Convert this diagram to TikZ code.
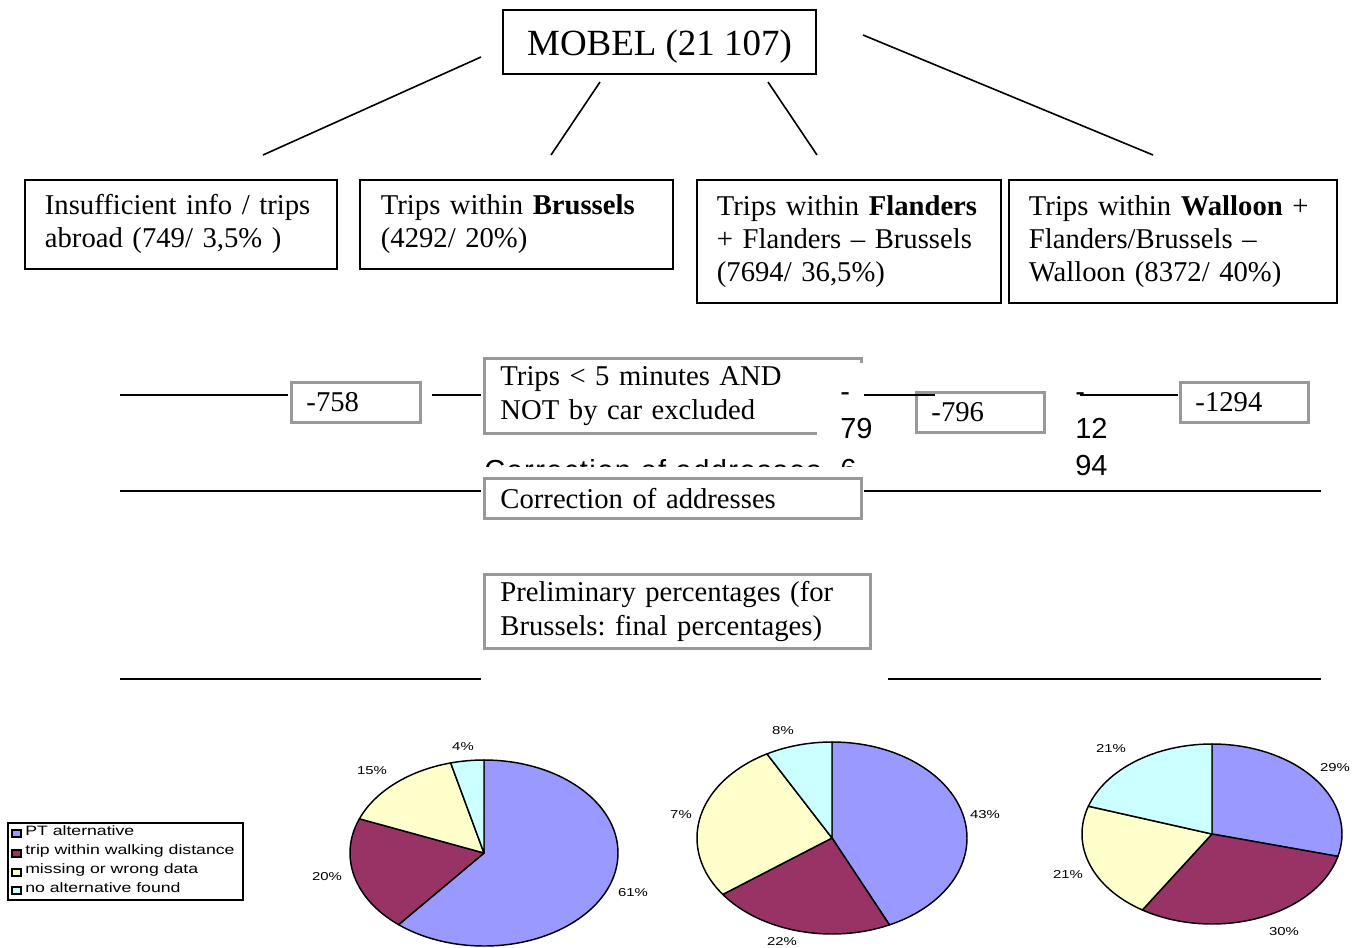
\documentclass[tikz,border=0pt]{standalone}
\usepackage{fontspec}
\usepackage{graphicx}
\setmainfont{Liberation Serif}
\setsansfont{Liberation Sans}
\definecolor{ptc}{HTML}{9999FF}
\definecolor{walkc}{HTML}{993366}
\definecolor{missc}{HTML}{FFFFCC}
\definecolor{noaltc}{HTML}{CCFFFF}
\definecolor{boxgray}{HTML}{999999}
\newcommand\Ln[1]{\mbox{#1}}
\newcommand\Pl[1]{\scalebox{1.3}[1]{#1}}
\frenchspacing
\tikzset{
  topbox/.style={draw=black, line width=1.4pt, rectangle, inner sep=0pt, anchor=north west, align=left, font=\fontsize{21.5pt}{24.75pt}\selectfont},
  graybox/.style={draw=boxgray, line width=2.2pt, rectangle, inner sep=0pt, anchor=north west, align=left, font=\fontsize{21.5pt}{25.5pt}\selectfont},
  link/.style={line width=1.2pt},
  rulel/.style={line width=1.5pt},
  pie/.style={draw=black, line width=1.1pt, line join=round},
  plabel/.style={font=\sffamily\fontsize{8.6pt}{10pt}\selectfont, inner sep=0pt},
  legtext/.style={font=\sffamily\fontsize{10.2pt}{12pt}\selectfont, inner sep=0pt, anchor=west},
  sansnum/.style={font=\sffamily\fontsize{21.75pt}{27.75pt}\selectfont, inner sep=0pt, anchor=base west},
  legsq/.style={draw=black, line width=0.8pt},
}
\begin{document}
\begin{tikzpicture}[x=0.75pt, y=-0.75pt]
\fill[white] (0,0) rectangle (1364,947);
\useasboundingbox (0,0) rectangle (1364,947);

% ---------- top tree ----------
\node[draw=black, line width=1.4pt, rectangle, inner sep=0pt, minimum width=234.75pt, minimum height=48pt,
      text height=20.6pt, text depth=0pt,
      font=\fontsize{27.7pt}{32pt}\selectfont] (mobel) at (659.5,42) {MOBEL (21 107)};

\node[topbox, minimum width=234pt, minimum height=66.75pt, text width=204pt] (b1) at (24,179)
  {\Ln{Insufficient info / trips}\\\Ln{abroad (749/ 3,5\% )}};
\node[topbox, minimum width=234.75pt, minimum height=66.75pt, text width=203.25pt] (b2) at (359,179)
  {\Ln{Trips within \textbf{Brussels}}\\\Ln{(4292/ 20\%)}};
\node[topbox, minimum width=228pt, minimum height=92.25pt, text width=198pt] (b3) at (696,179)
  {\Ln{Trips within \textbf{Flanders}}\\\Ln{+ Flanders – Brussels}\\\Ln{(7694/ 36,5\%)}};
\node[topbox, minimum width=246pt, minimum height=92.25pt, text width=216pt] (b4) at (1008,179)
  {\Ln{Trips within \textbf{Walloon} +}\\\Ln{Flanders/Brussels –}\\\Ln{Walloon (8372/ 40\%)}};

\coordinate (l1a) at (481,57);  \coordinate (l1b) at (263,155);
\coordinate (l2a) at (600,82);  \coordinate (l2b) at (551,155);
\coordinate (l3a) at (768,82);  \coordinate (l3b) at (817,155);
\coordinate (l4a) at (863,35);  \coordinate (l4b) at (1153,155);
\draw[link] (l1a) -- (l1b);
\draw[link] (l2a) -- (l2b);
\draw[link] (l3a) -- (l3b);
\draw[link] (l4a) -- (l4b);

% ---------- first filter row ----------
\node[graybox, minimum width=96.75pt, minimum height=30pt, text width=74.25pt] (m758) at (290,381) {-758};
\node[graybox, minimum width=282.75pt, minimum height=56.25pt, text width=258.75pt] (trips) at (483,357)
  {\Ln{Trips < 5 minutes AND}\\\Ln{NOT by car excluded}};
\fill[white] (817,363) rectangle (866,470);
\node[graybox, minimum width=96pt, minimum height=30pt, text width=73.5pt] (m796) at (915,391) {-796};
\node[graybox, minimum width=96pt, minimum height=30pt, text width=73.5pt] (m1294) at (1179,381) {-1294};

\coordinate (r1a) at (120,395); \coordinate (r1b) at (288,395);
\coordinate (r1c) at (432,395); \coordinate (r1d) at (481,395);
\coordinate (r1e) at (864,395); \coordinate (r1f) at (935,395);
\coordinate (r1g) at (1080,395); \coordinate (r1h) at (1178,395);
\draw[rulel] (r1a) -- (r1b);
\draw[rulel] (r1c) -- (r1d);
\draw[rulel] (r1e) -- (r1f);
\draw[rulel] (r1g) -- (r1h);

\node[sansnum] (d1) at (840,401) {-};
\node[sansnum] (n79) at (840,438) {79};
\node[sansnum] (d2) at (1075,401) {-};
\node[sansnum] (n12) at (1075,438) {12};
\node[sansnum] (n94) at (1075,475) {94};
\begin{scope}
  \clip (480,440) rectangle (870,466);
  \node[sansnum] (ghost) at (484,480) {\addfontfeature{LetterSpace=5}Correction of addresses};
  \node[sansnum] (n6) at (840,479) {6};
\end{scope}

% ---------- second row ----------
\node[graybox, minimum width=282.75pt, minimum height=30pt, text width=258.75pt] (corr) at (483,477)
  {Correction of addresses};
\coordinate (r2a) at (120,491); \coordinate (r2b) at (481,491);
\coordinate (r2c) at (864,491); \coordinate (r2d) at (1321,491);
\draw[rulel] (r2a) -- (r2b);
\draw[rulel] (r2c) -- (r2d);

% ---------- third row ----------
\node[graybox, minimum width=289.5pt, minimum height=55.5pt, text width=265.5pt] (prelim) at (483,573)
  {\Ln{Preliminary percentages (for}\\\Ln{Brussels: final percentages)}};
\coordinate (r3a) at (120,679); \coordinate (r3b) at (481,679);
\coordinate (r3c) at (888,679); \coordinate (r3d) at (1321,679);
\draw[rulel] (r3a) -- (r3b);
\draw[rulel] (r3c) -- (r3d);

% ---------- pies ----------
\begin{scope}[shift={(484,853)}, yscale=-1]
  \filldraw[pie, fill=ptc] (0,0) -- (90:134 and 93) arc[start angle=90, end angle=-129.6, x radius=134, y radius=93] -- cycle;
  \filldraw[pie, fill=walkc] (0,0) -- (-129.6:134 and 93) arc[start angle=-129.6, end angle=-201.6, x radius=134, y radius=93] -- cycle;
  \filldraw[pie, fill=missc] (0,0) -- (-201.6:134 and 93) arc[start angle=-201.6, end angle=-255.6, x radius=134, y radius=93] -- cycle;
  \filldraw[pie, fill=noaltc] (0,0) -- (-255.6:134 and 93) arc[start angle=-255.6, end angle=-270, x radius=134, y radius=93] -- cycle;
\end{scope}
\begin{scope}[shift={(832,838)}, yscale=-1]
  \filldraw[pie, fill=ptc] (0,0) -- (90:135 and 96) arc[start angle=90, end angle=-64.8, x radius=135, y radius=96] -- cycle;
  \filldraw[pie, fill=walkc] (0,0) -- (-64.8:135 and 96) arc[start angle=-64.8, end angle=-144, x radius=135, y radius=96] -- cycle;
  \filldraw[pie, fill=missc] (0,0) -- (-144:135 and 96) arc[start angle=-144, end angle=-241.2, x radius=135, y radius=96] -- cycle;
  \filldraw[pie, fill=noaltc] (0,0) -- (-241.2:135 and 96) arc[start angle=-241.2, end angle=-270, x radius=135, y radius=96] -- cycle;
\end{scope}
\begin{scope}[shift={(1212,834)}, yscale=-1]
  \filldraw[pie, fill=ptc] (0,0) -- (90:130 and 90) arc[start angle=90, end angle=-14.4, x radius=130, y radius=90] -- cycle;
  \filldraw[pie, fill=walkc] (0,0) -- (-14.4:130 and 90) arc[start angle=-14.4, end angle=-122.4, x radius=130, y radius=90] -- cycle;
  \filldraw[pie, fill=missc] (0,0) -- (-122.4:130 and 90) arc[start angle=-122.4, end angle=-198, x radius=130, y radius=90] -- cycle;
  \filldraw[pie, fill=noaltc] (0,0) -- (-198:130 and 90) arc[start angle=-198, end angle=-270, x radius=130, y radius=90] -- cycle;
\end{scope}

% pie labels
\node[plabel] (p1a) at (463,747) {\Pl{4\%}};
\node[plabel] (p1b) at (372,771) {\Pl{15\%}};
\node[plabel] (p1c) at (327,877) {\Pl{20\%}};
\node[plabel] (p1d) at (633,893) {\Pl{61\%}};
\node[plabel] (p2a) at (783,731) {\Pl{8\%}};
\node[plabel] (p2b) at (681,815) {\Pl{7\%}};
\node[plabel] (p2c) at (985,815) {\Pl{43\%}};
\node[plabel] (p2d) at (782,942) {\Pl{22\%}};
\node[plabel] (p3a) at (1111,749) {\Pl{21\%}};
\node[plabel] (p3b) at (1335,768) {\Pl{29\%}};
\node[plabel] (p3c) at (1068,875) {\Pl{21\%}};
\node[plabel] (p3d) at (1284,932) {\Pl{30\%}};

% legend
\draw[line width=1.2pt] (8,823) rectangle (243,900);
\draw[legsq, fill=ptc] (12,830) rectangle (21,837);
\draw[legsq, fill=walkc] (12,850) rectangle (21,857);
\draw[legsq, fill=missc] (12,869) rectangle (21,876);
\draw[legsq, fill=noaltc] (12,887) rectangle (21,894);
\node[legtext] (lg1) at (25,831) {\Pl{PT alternative}};
\node[legtext] (lg2) at (25,851) {\Pl{trip within walking distance}};
\node[legtext] (lg3) at (25,870) {\Pl{missing or wrong data}};
\node[legtext] (lg4) at (25,888) {\Pl{no alternative found}};
\end{tikzpicture}
\end{document}
